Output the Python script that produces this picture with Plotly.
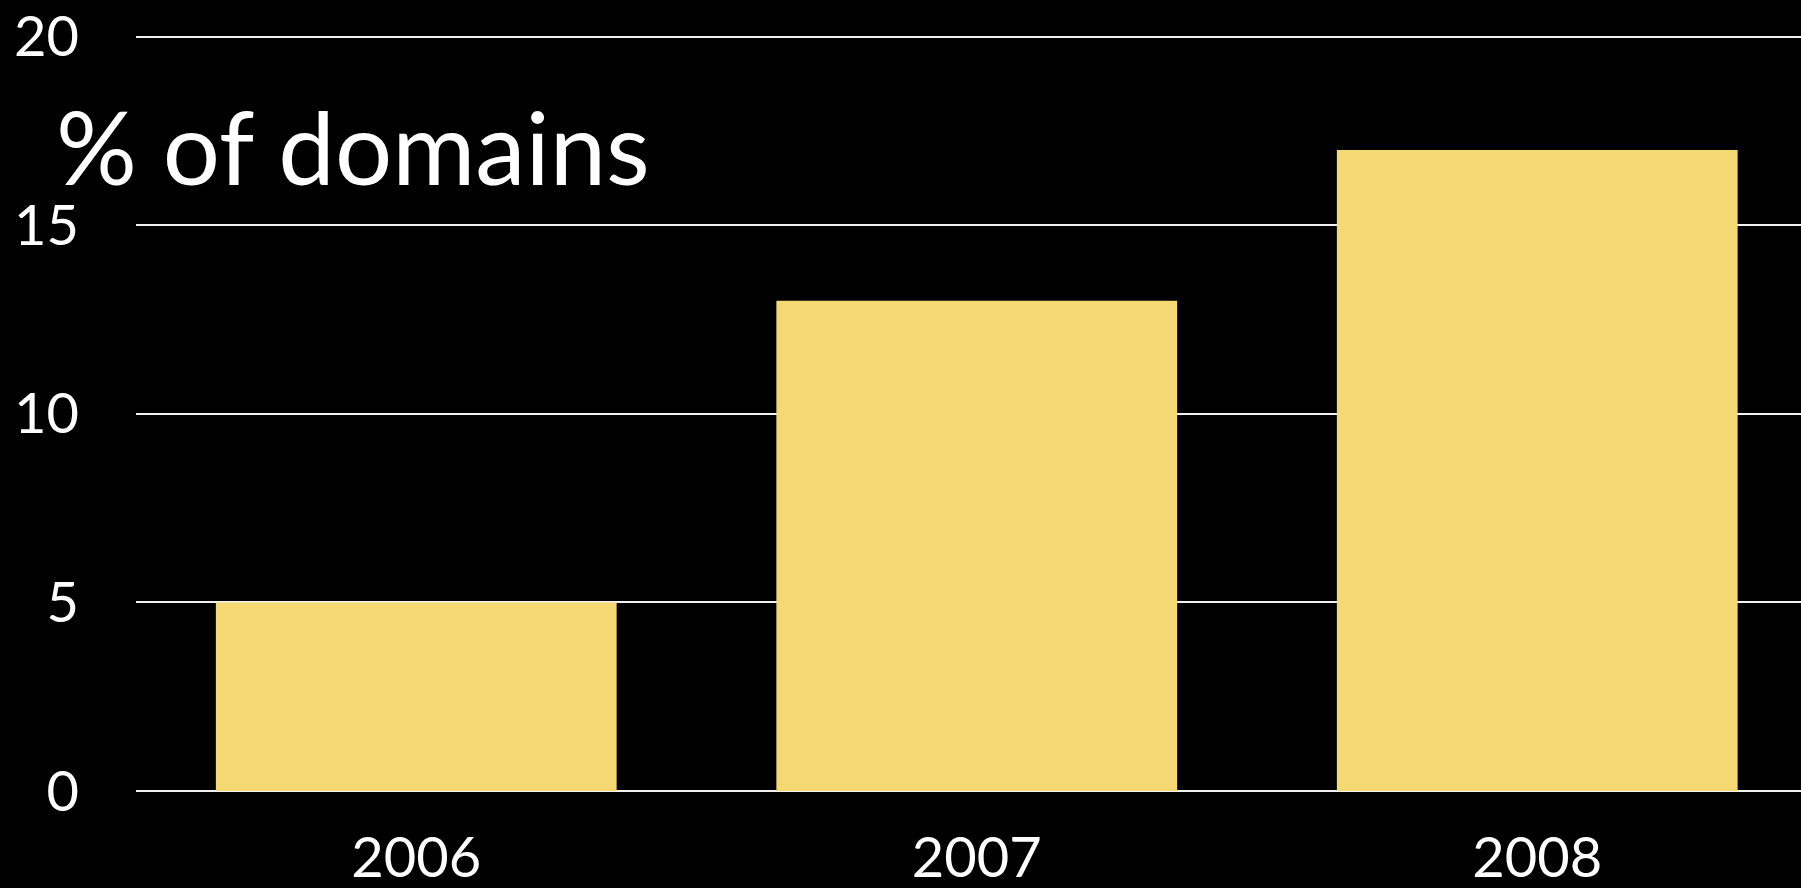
import plotly.graph_objects as go

years = ["2006", "2007", "2008"]
pct_domains = [5, 13, 17]
y_ticks = [0, 5, 10, 15, 20]
y_tick_labels = ["0", "5", "10", "15", "20"]
title_text = "% of domains"

FONT = "Lato"
W, H = 1801, 888
L, R, T, B = 136, 0, 33, 97

fig = go.Figure(
    go.Bar(
        x=years,
        y=pct_domains,
        marker=dict(color="#F4D872", line=dict(width=0)),
        hoverinfo="x+y",
    )
)

plot_w = W - L - R
plot_h = H - T - B
band = 560.5
x_max = -0.5 + plot_w / band

fig.update_layout(
    width=W,
    height=H,
    margin=dict(l=L, r=R, t=T, b=B, pad=0),
    paper_bgcolor="black",
    plot_bgcolor="black",
    bargap=0.285,
    showlegend=False,
    font=dict(family=FONT, color="white", size=56),
    xaxis=dict(
        type="category",
        range=[-0.5, x_max],
        showgrid=False,
        zeroline=False,
        showline=False,
        ticks="",
        tickfont=dict(family=FONT, size=56, color="white"),
        ticklabelstandoff=29,
        automargin=False,
        fixedrange=True,
    ),
    yaxis=dict(
        range=[0, 20.1],
        tickvals=y_ticks,
        ticktext=y_tick_labels,
        showgrid=True,
        gridcolor="#f2f2f2",
        gridwidth=2,
        zeroline=True,
        zerolinecolor="#f2f2f2",
        zerolinewidth=2,
        showline=False,
        ticks="",
        tickfont=dict(family=FONT, size=56, color="white"),
        ticklabelstandoff=56,
        automargin=False,
        fixedrange=True,
    ),
    annotations=[
        dict(
            text=title_text,
            xref="paper",
            yref="paper",
            x=(54 - L) / plot_w,
            y=1 - (146 - T) / plot_h,
            xanchor="left",
            yanchor="middle",
            showarrow=False,
            font=dict(family=FONT, size=101, color="white"),
        )
    ],
)

fig.write_html(
    "out.html",
    config={"displayModeBar": False},
    post_script="document.body.style.margin='0';document.body.style.background='black';",
)
